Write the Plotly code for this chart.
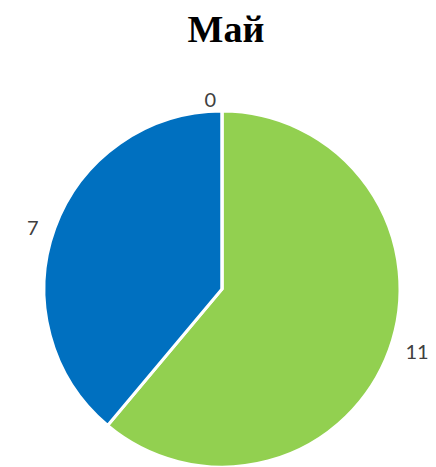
import plotly.graph_objects as go

title_text = "Май"
categories = ["Да", "Нет", "Нет ответа"]
values = [11, 7, 0]
colors = ["#92D050", "#0070C0", "#A5A5A5"]

templates = ["\u00a0\u00a0%{value}", "%{value}\u00a0\u00a0", "%{value}"]

fig = go.Figure(go.Pie(
    labels=categories,
    values=values,
    sort=False,
    direction="clockwise",
    rotation=0,
    marker=dict(colors=colors, line=dict(color="white", width=3)),
    texttemplate=templates,
    textposition="outside",
    textfont=dict(family="Lato, Open Sans, sans-serif", size=20, color="#404040"),
    showlegend=False,
    domain=dict(x=[0.0826, 0.8991], y=[0.017, 0.7793]),
    automargin=False,
    hoverinfo="label+value",
))
fig.update_layout(
    width=436, height=467,
    margin=dict(l=0, r=0, t=0, b=0),
    paper_bgcolor="white",
    title=dict(text="<b>" + title_text + "</b>", x=0.5, xanchor="center", y=0.955, yanchor="middle",
               font=dict(family="Liberation Serif, Times New Roman, serif", size=38, color="black")),
)
fig.write_html("out.html")
